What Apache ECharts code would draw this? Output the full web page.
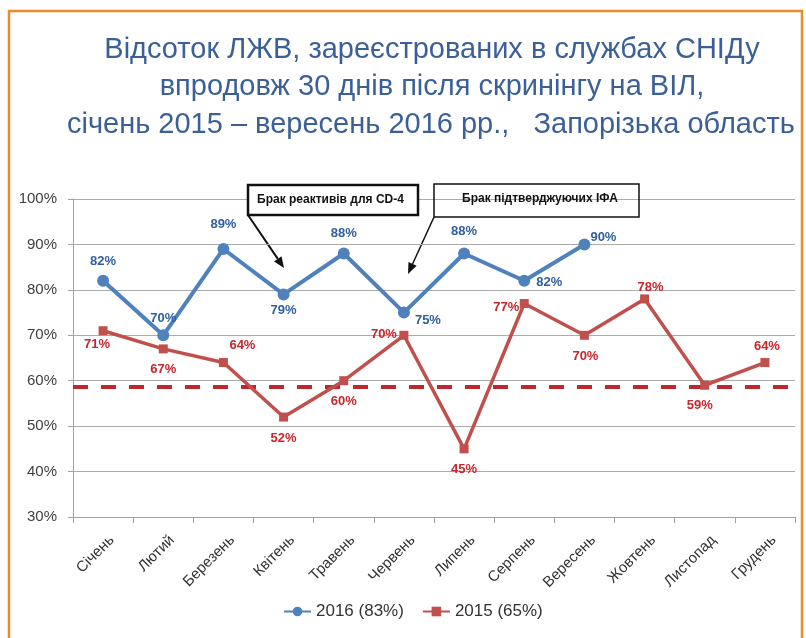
<!DOCTYPE html>
<html><head><meta charset="utf-8">
<script src="https://cdn.jsdelivr.net/npm/echarts@6/dist/echarts.min.js"></script>
<style>html,body{margin:0;padding:0;background:#fff}#c{width:806px;height:638px}</style>
</head><body><div id="c"></div>
<script>
// ---- data ----
const months = ['Січень','Лютий','Березень','Квітень','Травень','Червень','Липень','Серпень','Вересень','Жовтень','Листопад','Грудень'];
const name2016 = '2016 (83%)';
const name2015 = '2015 (65%)';
const values2016 = [82, 70, 89, 79, 88, 75, 88, 82, 90, null, null, null];
const values2015 = [71, 67, 64, 52, 60, 70, 45, 77, 70, 78, 59, 64];
const threshold2015 = 58.7;
const yMin = 30, yMax = 100, yStep = 10;
const titleLines = [
  'Відсоток ЛЖВ, зареєстрованих в службах СНІДу',
  'впродовж 30 днів після скринінгу на ВІЛ,',
  'січень 2015 – вересень 2016 рр.,   Запорізька область'
];
const note1 = 'Брак реактивів для CD-4';
const note2 = 'Брак підтверджуючих ІФА';

// ---- label placement (style only) ----
const shift2016 = [[0,-19],[0,-17],[0,-25],[0,16],[0,-20],[24,8],[0,-22],[25,2],[19,-7]];
const shift2015 = [[-6,14],[0,21],[19,-17],[0,21],[0,21],[-20,-1],[0,21],[-18,4],[1,21],[6,-12],[-5,20],[2,-16]];

const blue = '#4F81BD', red = '#C0504D';
const blueText = '#30609E', redText = '#C8262D';
const FONT = '"Liberation Sans", Arial, sans-serif';

function items(vals, shifts) {
  return vals.map((v, i) => v == null ? '-' : { value: v, label: { offset: shifts[i] } });
}

function arrow(x1, y1, x2, y2, w) {
  const a = Math.atan2(y2 - y1, x2 - x1), L = 11, H = 4.5;
  const bx = x2 - L * Math.cos(a), by = y2 - L * Math.sin(a);
  const px = -Math.sin(a) * H, py = Math.cos(a) * H;
  return [
    { type: 'line', shape: { x1, y1, x2: bx, y2: by }, style: { stroke: '#111', lineWidth: w } },
    { type: 'polygon', shape: { points: [[x2, y2], [bx + px, by + py], [bx - px, by - py]] }, style: { fill: '#111' } }
  ];
}

const chart = echarts.init(document.getElementById('c'));
chart.setOption({
  animation: false,
  backgroundColor: '#fff',
  textStyle: { fontFamily: FONT },
  grid: { left: 73, right: 11, top: 199, bottom: 121 },
  legend: {
    left: 283, top: 603, padding: 0,
    itemWidth: 27, itemHeight: 12, itemGap: 18,
    textStyle: { fontSize: 17, color: '#333', fontFamily: FONT },
    data: [name2016, name2015]
  },
  xAxis: {
    type: 'category', data: months, boundaryGap: true,
    axisLine: { lineStyle: { color: '#A0A0A0', width: 1 } },
    axisTick: { show: true, length: 6, lineStyle: { color: '#A0A0A0' } },
    axisLabel: { rotate: 45, fontSize: 15, color: '#333', margin: 12, interval: 0,
                 verticalAlign: 'top', padding: [5, 0, 0, 0] }
  },
  yAxis: {
    type: 'value', min: yMin, max: yMax, interval: yStep,
    axisLine: { show: true, lineStyle: { color: '#A0A0A0', width: 1 } },
    axisTick: { show: true, length: 5, lineStyle: { color: '#A0A0A0' } },
    splitLine: { lineStyle: { color: '#ABABAB', width: 1 } },
    axisLabel: { formatter: '{value}%', fontSize: 15, color: '#404040', margin: 16 }
  },
  series: [
    {
      name: name2016, type: 'line', data: items(values2016, shift2016),
      symbol: 'circle', symbolSize: 12, z: 4,
      lineStyle: { color: blue, width: 4 }, itemStyle: { color: blue },
      label: { show: true, position: 'inside', formatter: '{c}%', color: blueText, fontWeight: 'bold', fontSize: 13, fontFamily: FONT }
    },
    {
      name: name2015, type: 'line', data: items(values2015, shift2015),
      symbol: 'rect', symbolSize: 9, z: 3,
      lineStyle: { color: red, width: 3.5 }, itemStyle: { color: red },
      label: { show: true, position: 'inside', formatter: '{c}%', color: redText, fontWeight: 'bold', fontSize: 13, fontFamily: FONT },
      markLine: {
        silent: true, symbol: 'none', z: 2,
        label: { show: false },
        lineStyle: { color: '#C0272D', width: 4, type: [15, 13] },
        data: [{ yAxis: threshold2015 }]
      }
    }
  ],
  graphic: [
    { type: 'rect', shape: { x: 9, y: 11, width: 793, height: 700 }, style: { fill: 'none', stroke: '#E98D2B', lineWidth: 2.5 }, z: 0 },
    { type: 'text', x: 432, y: 50, style: { text: titleLines[0], font: '29px ' + FONT, fill: '#3B6097', textAlign: 'center', textVerticalAlign: 'middle' } },
    { type: 'text', x: 432, y: 87, style: { text: titleLines[1], font: '29px ' + FONT, fill: '#3B6097', textAlign: 'center', textVerticalAlign: 'middle' } },
    { type: 'text', x: 67, y: 125, style: { text: titleLines[2], font: '29px ' + FONT, fill: '#3B6097', textAlign: 'left', textVerticalAlign: 'middle' } },
    { type: 'rect', z: 10, shape: { x: 248, y: 185, width: 170, height: 30 }, style: { fill: '#fff', stroke: '#111', lineWidth: 2.5 } },
    { type: 'text', z: 11, x: 257, y: 200, style: { text: note1, font: 'bold 12px ' + FONT, fill: '#111', textAlign: 'left', textVerticalAlign: 'middle' } },
    { type: 'rect', z: 10, shape: { x: 434, y: 184, width: 205, height: 33 }, style: { fill: 'none', stroke: '#111', lineWidth: 1.5 } },
    { type: 'text', z: 11, x: 462, y: 199, style: { text: note2, font: 'bold 12px ' + FONT, fill: '#111', textAlign: 'left', textVerticalAlign: 'middle' } },
    { type: 'group', z: 10, children: arrow(248, 215, 284, 268, 2) },
    { type: 'group', z: 10, children: arrow(434, 217, 408, 274, 1.5) }
  ]
});
</script></body></html>
